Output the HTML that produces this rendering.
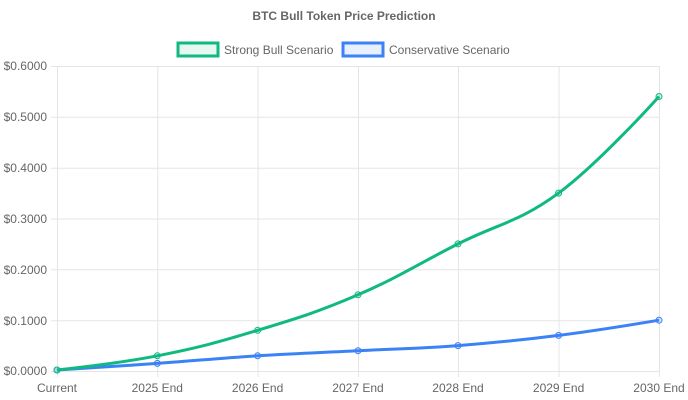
<!DOCTYPE html>
<html><head><style>
html,body{margin:0;padding:0;background:#fff;}
svg{display:block;font-family:"Liberation Sans",Arial,sans-serif;}
</style></head><body>
<svg width="688" height="400" viewBox="0 0 688 400" xmlns="http://www.w3.org/2000/svg">
<text x="344" y="20" text-anchor="middle" font-size="12" font-weight="bold" fill="#666">BTC Bull Token Price Prediction</text>
<rect x="178" y="43" width="40" height="13" fill="#e6f7f0" stroke="#10b981" stroke-width="3"/>
<text x="224" y="54" font-size="12" fill="#666">Strong Bull Scenario</text>
<rect x="343" y="43" width="40" height="13" fill="#e8effd" stroke="#3b82f6" stroke-width="3"/>
<text x="389" y="54" font-size="12" fill="#666">Conservative Scenario</text>
<g stroke="#e5e5e5" stroke-width="1">
<line x1="51" y1="66.5" x2="659" y2="66.5"/>
<line x1="51" y1="117.3" x2="659" y2="117.3"/>
<line x1="51" y1="168.2" x2="659" y2="168.2"/>
<line x1="51" y1="219" x2="659" y2="219"/>
<line x1="51" y1="269.8" x2="659" y2="269.8"/>
<line x1="51" y1="320.7" x2="659" y2="320.7"/>
<line x1="51" y1="371.5" x2="659" y2="371.5"/>
<line x1="57.5" y1="66" x2="57.5" y2="377"/>
<line x1="157.8" y1="66" x2="157.8" y2="377"/>
<line x1="258.1" y1="66" x2="258.1" y2="377"/>
<line x1="358.5" y1="66" x2="358.5" y2="377"/>
<line x1="458.5" y1="66" x2="458.5" y2="377"/>
<line x1="559.1" y1="66" x2="559.1" y2="377"/>
<line x1="659.5" y1="66" x2="659.5" y2="377"/>
</g>
<g font-size="12" fill="#666" text-anchor="end">
<text x="47" y="70">$0.6000</text>
<text x="47" y="121">$0.5000</text>
<text x="47" y="172">$0.4000</text>
<text x="47" y="223">$0.3000</text>
<text x="47" y="274">$0.2000</text>
<text x="47" y="325">$0.1000</text>
<text x="47" y="375">$0.0000</text>
</g>
<g font-size="12" fill="#666" text-anchor="middle">
<text x="57" y="392">Current</text>
<text x="157.3" y="392">2025 End</text>
<text x="257.6" y="392">2026 End</text>
<text x="358" y="392">2027 End</text>
<text x="458" y="392">2028 End</text>
<text x="558.6" y="392">2029 End</text>
<text x="659" y="392">2030 End</text>
</g>
<path d="M57,370 C57,370 117.2,366.2 157.3,363.4 C197.4,360.6 217.5,358.3 257.6,355.8 C297.7,353.3 317.9,352.7 358,350.7 C398.1,348.7 417.9,348.7 458,345.6 C498.1,342.5 518.4,340.5 558.6,335.4 C598.8,330.3 659,320.2 659,320.2" fill="none" stroke="#3b82f6" stroke-width="3"/>
<path d="M57,370 C57,370 117.2,363.7 157.3,355.8 C197.4,347.9 217.5,342.5 257.6,330.3 C297.7,318.1 317.9,312.1 358,294.8 C398.1,277.5 417.9,264.2 458,243.9 C498.1,223.6 518.4,222.6 558.6,193.1 C598.8,163.6 659,96.5 659,96.5" fill="none" stroke="#10b981" stroke-width="3"/>
<g fill="rgba(59,130,246,0.2)" stroke="#3b82f6" stroke-width="1">
<circle cx="57" cy="370" r="3"/><circle cx="157.3" cy="363.4" r="3"/><circle cx="257.6" cy="355.8" r="3"/><circle cx="358" cy="350.7" r="3"/><circle cx="458" cy="345.6" r="3"/><circle cx="558.6" cy="335.4" r="3"/><circle cx="659" cy="320.2" r="3"/>
</g>
<g fill="rgba(16,185,129,0.2)" stroke="#10b981" stroke-width="1">
<circle cx="57" cy="370" r="3"/><circle cx="157.3" cy="355.8" r="3"/><circle cx="257.6" cy="330.3" r="3"/><circle cx="358" cy="294.8" r="3"/><circle cx="458" cy="243.9" r="3"/><circle cx="558.6" cy="193.1" r="3"/><circle cx="659" cy="96.5" r="3"/>
</g>
</svg>
</body></html>
